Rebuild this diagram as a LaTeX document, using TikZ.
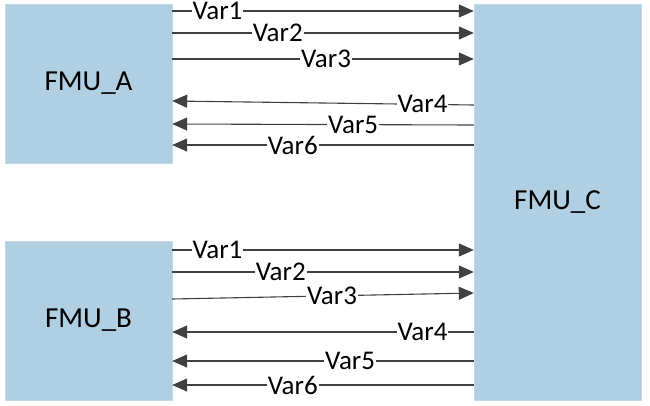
\documentclass[tikz,border=0pt]{standalone}
\usepackage{fontspec}
\setmainfont{Carlito}
\usetikzlibrary{arrows.meta}
\definecolor{boxblue}{HTML}{B1CFE2}
\definecolor{linegrey}{HTML}{404040}
\tikzset{
  fmu/.style={draw=boxblue!80!white, fill=boxblue, minimum width=167pt, inner sep=0pt, font=\fontsize{29}{33}\selectfont},
  arr/.style={draw=linegrey, line width=1.1pt, -{Triangle[length=15pt,width=13pt]}},
  lbl/.style={fill=white, inner sep=1pt, font=\fontsize{27}{30}\selectfont, text=black}
}
\begin{document}
\begin{tikzpicture}[x=1pt,y=-1pt]
\useasboundingbox (0,0) rectangle (650,405);
\node[fmu, minimum height=159pt] (A) at (88.5,83.5) {FMU\_A};
\node[fmu, minimum height=159pt] (B) at (88.5,320.5) {FMU\_B};
\node[fmu, minimum height=396pt] (C) at (557.5,202) {FMU\_C};
% top group
\draw[arr] (A.east |- 0,11) -- node[lbl,pos=0.15]{Var1} (C.west |- 0,11);
\draw[arr] (A.east |- 0,33) -- node[lbl,pos=0.35]{Var2} (C.west |- 0,33);
\draw[arr] (A.east |- 0,59) -- node[lbl,pos=0.51]{Var3} (C.west |- 0,59);
\draw[arr] (C.west |- 0,105) -- node[lbl,pos=0.17]{Var4} (A.east |- 0,101);
\draw[arr] (C.west |- 0,125) -- node[lbl,pos=0.40]{Var5} (A.east |- 0,124);
\draw[arr] (C.west |- 0,145) -- node[lbl,pos=0.60]{Var6} (A.east |- 0,145);
% bottom group
\draw[arr] (B.east |- 0,250) -- node[lbl,pos=0.15]{Var1} (C.west |- 0,250);
\draw[arr] (B.east |- 0,272) -- node[lbl,pos=0.36]{Var2} (C.west |- 0,272);
\draw[arr] (B.east |- 0,299) -- node[lbl,pos=0.53]{Var3} (C.west |- 0,293);
\draw[arr] (C.west |- 0,332) -- node[lbl,pos=0.17]{Var4} (B.east |- 0,332);
\draw[arr] (C.west |- 0,361) -- node[lbl,pos=0.41]{Var5} (B.east |- 0,361);
\draw[arr] (C.west |- 0,385) -- node[lbl,pos=0.60]{Var6} (B.east |- 0,385);
\end{tikzpicture}
\end{document}
